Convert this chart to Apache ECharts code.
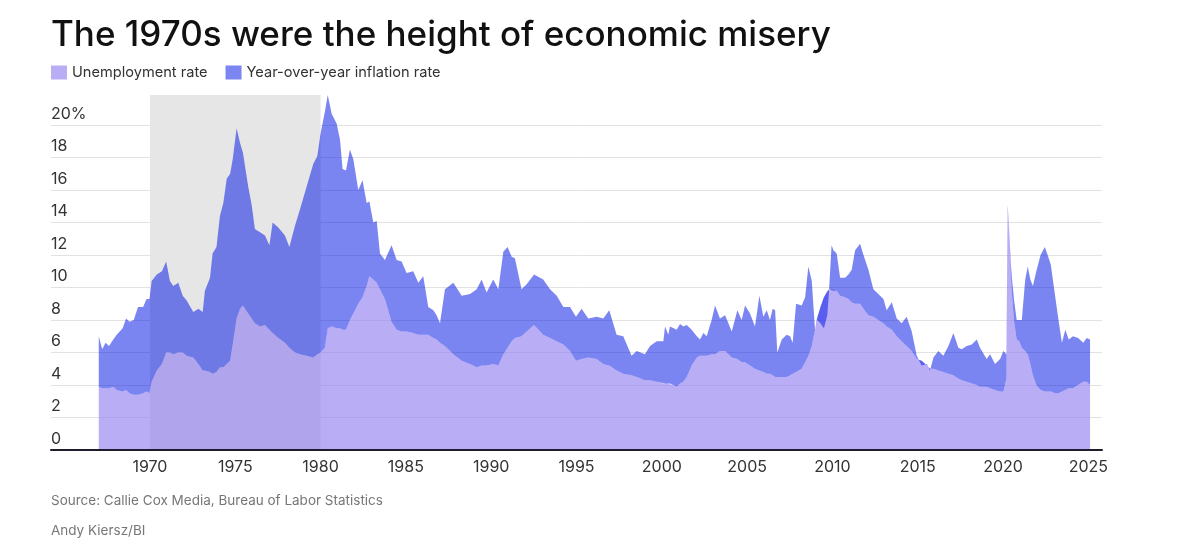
<!DOCTYPE html>
<html lang="en">
<head>
<meta charset="utf-8" />
<title>The 1970s were the height of economic misery</title>
<style>
  html, body { margin: 0; padding: 0; background: #fff; }
  #chart { width: 1200px; height: 551px; }
</style>
</head>
<body>
<div id="chart"></div>
<script src="https://cdn.jsdelivr.net/npm/echarts@6.0.0/dist/echarts.min.js"></script>
<script>
// sample dates (decimal years)
var dates = [
  1967.0, 1967.2, 1967.4, 1967.6, 1967.85, 1968.05, 1968.4, 1968.6, 1968.8, 1969.05,
  1969.3, 1969.6, 1969.8, 1969.97, 1970.1, 1970.4, 1970.7, 1970.95, 1971.17, 1971.37,
  1971.66, 1971.92, 1972.15, 1972.54, 1972.84, 1973.09, 1973.22, 1973.52, 1973.67, 1973.9,
  1974.1, 1974.3, 1974.5, 1974.7, 1974.85, 1975.08, 1975.28, 1975.45, 1975.76, 1975.96,
  1976.15, 1976.45, 1976.74, 1977.0, 1977.19, 1977.52, 1977.91, 1978.17, 1978.5, 1978.79,
  1979.18, 1979.57, 1979.81, 1980.0, 1980.25, 1980.42, 1980.65, 1980.94, 1981.14, 1981.29,
  1981.49, 1981.72, 1981.92, 1982.21, 1982.46, 1982.7, 1982.86, 1983.09, 1983.29, 1983.48,
  1983.77, 1984.16, 1984.46, 1984.75, 1985.04, 1985.43, 1985.73, 1986.02, 1986.31, 1986.61,
  1986.8, 1987.0, 1987.29, 1987.78, 1988.27, 1988.76, 1989.15, 1989.44, 1989.73, 1990.12,
  1990.42, 1990.71, 1990.96, 1991.2, 1991.39, 1991.78, 1992.08, 1992.51, 1993.05, 1993.45,
  1993.84, 1994.23, 1994.62, 1994.97, 1995.3, 1995.69, 1996.18, 1996.57, 1996.92, 1997.35,
  1997.74, 1998.23, 1998.53, 1999.01, 1999.31, 1999.7, 2000.09, 2000.19, 2000.38, 2000.48,
  2000.87, 2001.07, 2001.26, 2001.46, 2001.75, 2002.05, 2002.24, 2002.44, 2002.63, 2002.92,
  2003.12, 2003.41, 2003.71, 2004.1, 2004.43, 2004.68, 2004.88, 2005.17, 2005.46, 2005.72,
  2005.95, 2006.15, 2006.34, 2006.5, 2006.64, 2006.77, 2007.03, 2007.32, 2007.52, 2007.67,
  2007.87, 2008.2, 2008.4, 2008.59, 2008.79, 2008.98, 2009.1, 2009.3, 2009.5, 2009.7,
  2009.8, 2009.95, 2010.06, 2010.25, 2010.45, 2010.74, 2010.94, 2011.13, 2011.33, 2011.62,
  2011.82, 2012.11, 2012.4, 2012.69, 2012.99, 2013.18, 2013.48, 2013.77, 2014.06, 2014.35,
  2014.65, 2014.94, 2015.23, 2015.53, 2015.72, 2015.92, 2016.21, 2016.5, 2016.8, 2017.09,
  2017.38, 2017.58, 2017.87, 2018.17, 2018.46, 2018.65, 2019.04, 2019.24, 2019.53, 2019.83,
  2020.02, 2020.2, 2020.27, 2020.37, 2020.45, 2020.53, 2020.65, 2020.8, 2020.95, 2021.1,
  2021.3, 2021.45, 2021.6, 2021.75, 2021.95, 2022.2, 2022.45, 2022.65, 2022.8, 2023.05,
  2023.25, 2023.45, 2023.65, 2023.85, 2024.1, 2024.4, 2024.7, 2024.9, 2025.1
];

// unemployment rate, %
var unemployment = [
  3.9, 3.8, 3.8, 3.8, 3.9, 3.7, 3.6, 3.7, 3.5, 3.4,
  3.4, 3.5, 3.6, 3.5, 4.2, 4.9, 5.3, 6.0, 6.0, 5.9,
  6.0, 6.0, 5.8, 5.7, 5.3, 4.9, 4.9, 4.8, 4.7, 4.8,
  5.1, 5.1, 5.3, 5.5, 6.5, 8.1, 8.7, 8.9, 8.4, 8.1,
  7.8, 7.6, 7.7, 7.4, 7.2, 6.9, 6.6, 6.3, 6.0, 5.9,
  5.8, 5.7, 5.9, 6.0, 6.3, 7.5, 7.6, 7.5, 7.5, 7.4,
  7.4, 8.0, 8.4, 9.0, 9.4, 10.1, 10.7, 10.5, 10.3, 9.9,
  9.3, 7.9, 7.4, 7.3, 7.3, 7.2, 7.1, 7.1, 7.1, 6.9,
  6.8, 6.6, 6.4, 5.9, 5.5, 5.3, 5.1, 5.2, 5.2, 5.3,
  5.2, 5.9, 6.3, 6.7, 6.9, 7.0, 7.3, 7.7, 7.1, 6.9,
  6.7, 6.5, 6.1, 5.5, 5.6, 5.7, 5.6, 5.3, 5.2, 4.9,
  4.7, 4.6, 4.5, 4.3, 4.3, 4.2, 4.1, 4.1, 4.1, 4.1,
  3.9, 4.1, 4.2, 4.5, 5.2, 5.7, 5.8, 5.8, 5.8, 5.9,
  5.9, 6.1, 6.1, 5.7, 5.6, 5.4, 5.4, 5.2, 5.0, 4.9,
  4.8, 4.7, 4.7, 4.6, 4.5, 4.5, 4.5, 4.5, 4.6, 4.7,
  4.8, 5.0, 5.4, 5.8, 6.4, 7.4, 8.1, 8.8, 9.4, 9.8,
  9.9, 9.9, 9.8, 9.8, 9.5, 9.4, 9.3, 9.1, 9.0, 9.0,
  8.7, 8.3, 8.2, 8.0, 7.8, 7.6, 7.4, 7.0, 6.7, 6.4,
  6.1, 5.6, 5.5, 5.2, 5.0, 5.0, 4.9, 4.8, 4.7, 4.6,
  4.4, 4.3, 4.2, 4.1, 4.0, 3.9, 3.9, 3.8, 3.7, 3.6,
  3.6, 4.4, 14.8, 13.2, 11.0, 9.5, 7.9, 6.8, 6.7, 6.3,
  6.1, 5.9, 5.3, 4.6, 4.0, 3.7, 3.6, 3.6, 3.6, 3.5,
  3.5, 3.6, 3.7, 3.8, 3.8, 4.0, 4.2, 4.2, 4.0
];

// year-over-year inflation rate, %
var inflation = [
  3.1, 2.4, 2.8, 2.6, 2.9, 3.4, 3.9, 4.4, 4.4, 4.6,
  5.4, 5.3, 5.7, 5.8, 6.2, 5.9, 5.7, 5.6, 4.4, 4.2,
  4.3, 3.5, 3.4, 2.8, 3.4, 3.6, 4.9, 5.8, 7.4, 7.7,
  9.3, 10.1, 11.4, 11.5, 11.4, 11.7, 10.2, 9.4, 7.8, 7.0,
  5.8, 5.8, 5.5, 5.2, 6.8, 6.8, 6.6, 6.2, 7.8, 8.9,
  10.4, 11.9, 12.2, 13.5, 14.5, 14.35, 13.1, 12.6, 11.6, 9.9,
  9.8, 10.5, 9.5, 7.0, 7.2, 5.1, 4.6, 3.5, 3.8, 2.2,
  2.4, 4.7, 4.3, 4.3, 3.6, 3.8, 3.2, 3.6, 1.7, 1.7,
  1.5, 1.2, 3.5, 4.4, 4.0, 4.3, 4.8, 5.3, 4.5, 5.2,
  4.7, 6.3, 6.2, 5.2, 4.9, 2.9, 2.9, 3.1, 3.4, 3.0,
  2.8, 2.3, 2.7, 2.7, 3.1, 2.4, 2.6, 2.8, 3.4, 2.2,
  2.3, 1.2, 1.6, 1.6, 2.1, 2.5, 2.6, 3.5, 3.0, 3.5,
  3.5, 3.65, 3.4, 3.2, 2.2, 1.3, 1.0, 1.4, 1.2, 2.1,
  3.0, 2.0, 2.2, 1.6, 3.0, 2.6, 3.5, 3.2, 2.6, 4.6,
  3.4, 3.9, 3.3, 4.1, 4.1, 1.5, 2.3, 2.6, 2.4, 1.9,
  4.2, 3.9, 4.0, 5.5, 4.0, 0.0, -0.1, -1.0, -1.9, -1.5,
  -0.1, 2.7, 2.5, 2.3, 1.1, 1.2, 1.5, 2.0, 3.3, 3.7,
  3.3, 2.8, 1.7, 1.6, 1.5, 1.0, 1.7, 1.1, 1.1, 1.8,
  1.2, 0.2, -0.3, 0.1, -0.1, 0.7, 1.2, 1.0, 1.7, 2.6,
  1.9, 1.9, 2.2, 2.4, 2.8, 2.4, 1.7, 2.1, 1.6, 2.0,
  2.5, 1.5, 0.3, 0.1, 0.6, 1.0, 1.3, 1.2, 1.3, 1.7,
  4.4, 5.4, 5.2, 5.5, 7.0, 8.3, 8.9, 8.3, 7.8, 6.0,
  4.5, 3.0, 3.7, 3.0, 3.2, 2.9, 2.4, 2.7, 2.8
];

var yearTicks = [1970, 1975, 1980, 1985, 1990, 1995, 2000, 2005, 2010, 2015, 2020, 2025];
var shadeFrom = 1970;
var shadeTo = 1980;

var fontFamily = 'Inter, "Noto Sans", sans-serif';

// value first, year second: the stack then sums the values, not the years
function pairs(values) {
    return dates.map(function (d, i) {
        return [values[i], d];
    });
}

var myChart = echarts.init(document.getElementById('chart'));

var option = {
    animation: false,
    backgroundColor: '#fff',
    title: [{
        text: 'The 1970s were the height of economic misery',
        left: 51,
        top: 18,
        padding: 0,
        textStyle: { fontFamily: fontFamily, fontSize: 35, fontWeight: 500, color: '#111' }
    }, {
        text: 'Source: Callie Cox Media, Bureau of Labor Statistics',
        left: 51,
        top: 494,
        padding: 0,
        textStyle: { fontFamily: fontFamily, fontSize: 13.5, fontWeight: 'normal', color: '#777' }
    }, {
        text: 'Andy Kiersz/BI',
        left: 51,
        top: 524,
        padding: 0,
        textStyle: { fontFamily: fontFamily, fontSize: 13.5, fontWeight: 'normal', color: '#777' }
    }],
    legend: {
        left: 51,
        top: 65,
        padding: 0,
        icon: 'rect',
        itemWidth: 16,
        itemHeight: 14,
        itemGap: 18,
        selectedMode: false,
        textStyle: { fontFamily: fontFamily, fontSize: 14.6, color: '#333' },
        data: ['Unemployment rate', 'Year-over-year inflation rate']
    },
    grid: { left: 51, right: 98, top: 95, bottom: 101 },
    xAxis: {
        type: 'value',
        min: 1964.2,
        max: 2025.8,
        z: 3,
        axisLine: { show: true, lineStyle: { color: '#1d1d2b', width: 2 } },
        axisTick: { show: false },
        splitLine: { show: false },
        axisLabel: {
            customValues: yearTicks,
            margin: 9,
            fontFamily: fontFamily,
            fontSize: 16,
            color: '#333',
            formatter: function (v) {
                return String(v);
            }
        }
    },
    yAxis: {
        type: 'value',
        min: 0,
        max: 21.85,
        interval: 2,
        axisLine: { show: false },
        axisTick: { show: false },
        splitLine: { show: true, showMaxLine: false, lineStyle: { color: '#e2e2e2', width: 1 } },
        axisLabel: {
            inside: true,
            showMaxLabel: false,
            margin: 0,
            align: 'left',
            verticalAlign: 'bottom',
            padding: [0, 0, 3, 0],
            fontFamily: fontFamily,
            fontSize: 16,
            color: '#333',
            formatter: function (v) {
                return v === 20 ? '20%' : String(v);
            }
        }
    },
    series: [{
        name: 'Unemployment rate',
        type: 'line',
        stack: 'misery',
        stackStrategy: 'all',
        encode: { x: 1, y: 0 },
        data: pairs(unemployment),
        symbol: 'none',
        lineStyle: { width: 0 },
        itemStyle: { color: '#b9adf6' },
        areaStyle: { color: 'rgba(146,127,241,0.64)', opacity: 1 },
        markArea: {
            silent: true,
            z: 1,
            itemStyle: { color: '#e6e6e6' },
            data: [[{ xAxis: shadeFrom }, { xAxis: shadeTo }]]
        }
    }, {
        name: 'Year-over-year inflation rate',
        type: 'line',
        stack: 'misery',
        stackStrategy: 'all',
        encode: { x: 1, y: 0 },
        data: pairs(inflation),
        symbol: 'none',
        lineStyle: { width: 0 },
        itemStyle: { color: '#7b86f2' },
        areaStyle: { color: 'rgba(1,22,230,0.52)', opacity: 1 }
    }]
};

myChart.setOption(option);
</script>
</body>
</html>
